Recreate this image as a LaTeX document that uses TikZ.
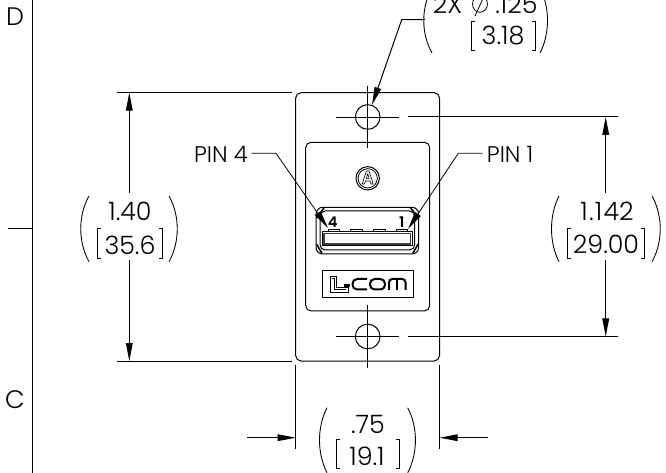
\documentclass[tikz,border=0pt]{standalone}
\usepackage{fontspec}
\setmainfont{Poppins Light}
\usetikzlibrary{arrows.meta}
\tikzset{
  ln/.style={draw=black,line width=0.75pt},
  thin ln/.style={draw=black,line width=0.6pt},
  dimtip/.style={-{Triangle[length=13.5pt,width=5pt]}},
  lbl/.style={inner sep=0pt,font=\fontsize{19pt}{19pt}\selectfont},
  small lbl/.style={inner sep=0pt,font=\fontsize{17pt}{17pt}\selectfont},
}
\newcommand{\bigparen}[4]{% x outer, x inner, y top, y bottom
  \draw[line width=0.65pt] (#2,#3) .. controls (#1,{#3+0.3*(#4-#3)}) and (#1,{#3+0.7*(#4-#3)}) .. (#2,#4);}
\newcommand{\brk}[4]{\draw[line width=0.6pt] (#2,#3) -- (#1,#3) -- (#1,#4) -- (#2,#4);}
\begin{document}
\begin{tikzpicture}[x=0.75pt,y=-0.75pt]
\useasboundingbox (0,0) rectangle (666,473);
\begin{scope}
\clip (0,0) rectangle (666,473);
% border
\draw[ln] (32.7,0) -- (32.7,473);
\draw[ln] (8,229) -- (32.7,229);
\node[lbl] (zoneD) at (15,17) {D};
\node[lbl] (zoneC) at (15,400) {C};
% plate
\draw[ln,rounded corners=4pt] (295.7,92.7) rectangle (439.5,361);
\draw[ln,rounded corners=4pt] (305.7,142.3) rectangle (429.7,311);
% holes
\node[ln,circle,minimum size=18.5pt,inner sep=0pt] (holeT) at (367.7,117) {};
\node[ln,circle,minimum size=18.5pt,inner sep=0pt] (holeB) at (367.7,336.5) {};
\draw[thin ln] (367.7,85.7) -- (367.7,148.3);
\draw[thin ln] (367.7,305) -- (367.7,368);
\draw[thin ln] (336,117) -- (399,117);
\draw[thin ln] (336,336.5) -- (399,336.5);
\draw[ln] (408,117) -- (617.7,117);
\draw[ln] (408,336.5) -- (617.7,336.5);
% A mark
\node[ln,circle,minimum size=17.5pt,inner sep=0pt] (markA) at (367.7,178.3) {};
\node[thin ln,circle,minimum size=14.5pt,inner sep=0pt] (markB) at (367.7,178.3) {};
\draw[line width=0.45pt,line join=round] (362.2,184) -- (366.4,171) -- (369,171) -- (373.2,184) -- (371,184) -- (370,181) -- (365.4,181) -- (364.4,184) -- cycle;
\draw[line width=0.45pt] (366.2,178.7) -- (369.2,178.7) -- (367.7,174) -- cycle;
% USB port
\draw[ln,rounded corners=5pt] (316,207.3) rectangle (418.7,254);
\draw[ln,rounded corners=4pt] (320,211) rectangle (414.7,250);
\draw[line width=1.2pt] (316.5,218) -- (324,208);
\draw[line width=1.2pt] (418.2,218) -- (410.7,208);
\draw[line width=1.2pt] (316.5,244) -- (322,253.5);
\draw[line width=1.2pt] (418.2,244) -- (412.7,253.5);
\draw[ln,fill=white] (322,231.7) rectangle (412.7,246);
\draw[line width=1.1pt,draw=black!75] (324,233.7) rectangle (410.7,244);
\foreach \a/\b in {328.5/339.5,350/362,373/385,396/407.5}{
  \draw[thin ln] (\a,231.7) -- (\a,229) -- (\b,229) -- (\b,231.7);
}
\node[inner sep=0pt,font=\fontsize{11pt}{11pt}\selectfont\bfseries] (pinfour) at (332.7,222) {4};
\node[inner sep=0pt,font=\fontsize{11pt}{11pt}\selectfont\bfseries] (pinone) at (401.7,222) {1};
% logo
\draw[ln] (322,270.3) rectangle (413,297.3);
\draw[thin ln,line join=miter] (330,276) -- (336.7,276) -- (336.7,287) -- (348,287) -- (348,292.7) -- (330,292.7) -- cycle;
\draw[line width=0.4pt] (332,278) -- (334.6,278) -- (334.6,289.5) -- (346,289.5);
\draw[line width=1.6pt] (344,285.5) -- (350,285.5);
\begin{scope}[line width=1.5pt,line cap=butt]
\draw[rounded corners=3.5pt] (367,279) -- (352.5,279) -- (352.5,289.5) -- (367,289.5);
\draw[rounded corners=3.5pt] (370,279) rectangle (385,289.5);
\draw[rounded corners=2.5pt] (389,290) -- (389,279) -- (405.5,279) -- (405.5,290);
\draw (397.2,279) -- (397.2,290);
\end{scope}
% left dimension
\draw[ln] (117,92.7) -- (291.7,92.7);
\draw[ln] (117,361) -- (291.7,361);
\coordinate (la) at (129.3,193);
\coordinate (lb) at (129.3,92.7);
\coordinate (lc) at (129.3,260);
\coordinate (ld) at (129.3,361);
\draw[ln,dimtip] (la) -- (lb);
\draw[ln,dimtip] (lc) -- (ld);
\node[lbl] (ltop) at (130,211.5) {1.40};
\node[lbl] (lbot) at (130,245) {35.6};
\brk{97}{100.5}{228}{258}
\brk{162}{158.5}{228}{258}
\bigparen{78}{89}{196}{261.7}
\bigparen{180}{169}{196}{261.7}
% right dimension
\coordinate (ra) at (605.7,193);
\coordinate (rb) at (605.7,117);
\coordinate (rc) at (605.7,260);
\coordinate (rd) at (605.7,336.5);
\draw[ln,dimtip] (ra) -- (rb);
\draw[ln,dimtip] (rc) -- (rd);
\node[lbl] (rtop) at (607,211.5) {1\kern.05em.\kern.05em1\kern.05em42};
\node[lbl] (rbot) at (606,244.5) {29.00};
\brk{567.7}{571.2}{228}{258}
\brk{644}{640.5}{228}{258}
\bigparen{549}{559}{196}{261.7}
\bigparen{663}{652}{196}{261.7}
% bottom dimension
\draw[ln] (295.7,365) -- (295.7,449);
\draw[ln] (439.7,365) -- (439.7,449);
\coordinate (ba) at (247,437.7);
\coordinate (bb) at (295.7,437.7);
\coordinate (bc) at (488,437.7);
\coordinate (bd) at (439.7,437.7);
\draw[ln,dimtip] (ba) -- (bb);
\draw[ln,dimtip] (bc) -- (bd);
\node[lbl] (btop) at (368,424) {.75};
\node[lbl] (bbot) at (367,456) {19.1};
\brk{336}{339.5}{439}{468}
\brk{399}{395.5}{439}{468}
\bigparen{317}{327}{407.7}{472.7}
\bigparen{418}{407.7}{407.7}{472.7}
% callout
\coordinate (ca) at (425,19.7);
\coordinate (cb) at (401.7,19.7);
\coordinate (cc) at (372,105);
\draw[ln,dimtip] (ca) -- (cb) -- (cc);
\node[lbl,anchor=west] (ctop) at (432.7,4) {2X};
\node[lbl,anchor=west] (ctopb) at (495,4) {.125};
\draw[line width=0.6pt] (480,4) ellipse (5.6pt and 6.2pt);
\draw[line width=0.6pt] (475,16) -- (486,-8);
\node[lbl] (cbot) at (503,36) {3.18};
\brk{471.7}{475.2}{21.7}{50}
\brk{535}{531.5}{21.7}{50}
\bigparen{421}{432}{-12}{53}
\bigparen{550}{540}{-12}{53}
% pin leaders
\coordinate (p4a) at (251.7,153.3);
\coordinate (p4b) at (276,153.3);
\coordinate (p4c) at (328,228);
\coordinate (p1a) at (482.7,153.3);
\coordinate (p1b) at (458.3,153.3);
\coordinate (p1c) at (408,229);
\draw[thin ln,dimtip] (p4a) -- (p4b) -- (p4c);
\draw[thin ln,dimtip] (p1a) -- (p1b) -- (p1c);
\node[small lbl,anchor=east] (pinf) at (248,154) {PIN 4};
\node[small lbl,anchor=west] (pino) at (486.7,154) {PIN 1};
\end{scope}
\end{tikzpicture}
\end{document}
